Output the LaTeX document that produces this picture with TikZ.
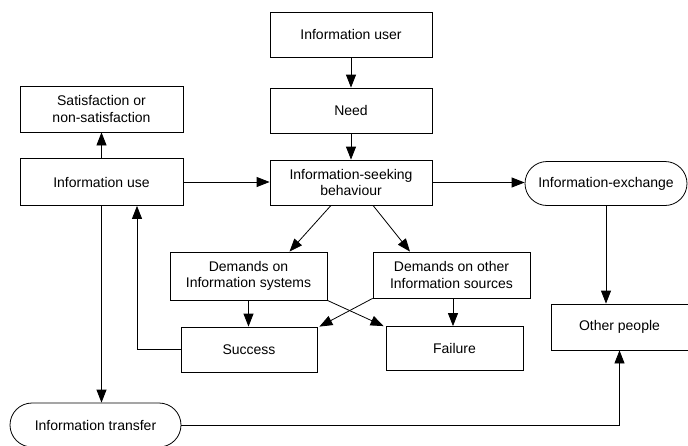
\documentclass[tikz,border=0pt]{standalone}
\usepackage{fontspec}
\setmainfont{Liberation Sans}
\usetikzlibrary{arrows.meta,shapes.misc}
\begin{document}
\begin{tikzpicture}[x=1pt,y=-1pt,
  box/.style={draw,line width=0.8pt,rectangle,inner sep=2pt,align=center,font=\fontsize{14}{16.5}\selectfont},
  pill/.style={box,rounded rectangle},
  arr/.style={line width=0.8pt,-{Triangle[length=13pt,width=10pt]}}]
\useasboundingbox (0,0) rectangle (688,445);
\node[box,minimum width=162pt,minimum height=45pt] (user) at (351,34.5) {Information user};
\node[box,minimum width=162pt,minimum height=45pt] (need) at (351,110.5) {Need};
\node[box,minimum width=162pt,minimum height=45pt] (isb) at (351,182.5) {Information-seeking\\behaviour};
\node[box,minimum width=163pt,minimum height=46pt] (sat) at (101.5,109) {Satisfaction or\\non-satisfaction};
\node[box,minimum width=163pt,minimum height=47pt] (use) at (101.5,182) {Information use};
\node[pill,minimum width=166pt,minimum height=44pt] (exch) at (606,183.5) {Information-exchange};
\node[box,minimum width=157pt,minimum height=48pt] (dsys) at (248.5,276) {Demands on\\Information systems};
\node[box,minimum width=157pt,minimum height=46pt] (doth) at (451.5,275) {Demands on other\\Information sources};
\node[box,minimum width=136pt,minimum height=45pt] (succ) at (249,349.5) {Success};
\node[box,minimum width=137pt,minimum height=44pt] (fail) at (454.5,348.5) {Failure};
\node[box,minimum width=137pt,minimum height=46pt] (other) at (619.5,327) {Other people};
\node[pill,minimum width=175pt,minimum height=44pt] (trans) at (95.5,425) {Information transfer};

\draw[arr] (user.south) -- (need.north);
\draw[arr] (need.south) -- (isb.north);
\draw[arr] (use.east) -- (use.east -| isb.west);
\draw[arr] (use.north) -- (sat.south);
\draw[arr] (isb.east) -- (isb.east -| exch.west);
\draw[arr] ([xshift=-20pt]isb.south) -- ([xshift=41pt]dsys.north);
\draw[arr] ([xshift=22pt]isb.south) -- ([xshift=-41.5pt]doth.north);
\draw[arr] (dsys.south) -- (dsys.south |- succ.north);
\draw[arr] (dsys.south east) -- ([xshift=-2pt]fail.north west);
\draw[arr] (doth.south west) -- ([xshift=2pt]succ.north east);
\draw[arr] ([xshift=1.5pt]doth.south) -- ([xshift=1.5pt]doth.south |- fail.north);
\draw[arr] (succ.west) -| ([xshift=35.5pt]use.south);
\draw[arr] (use.south) -- (use.south |- trans.north);
\draw[arr] (trans.east) -| (other.south);
\draw[arr] (exch.south) -- (exch.south |- other.north);
\end{tikzpicture}
\end{document}
